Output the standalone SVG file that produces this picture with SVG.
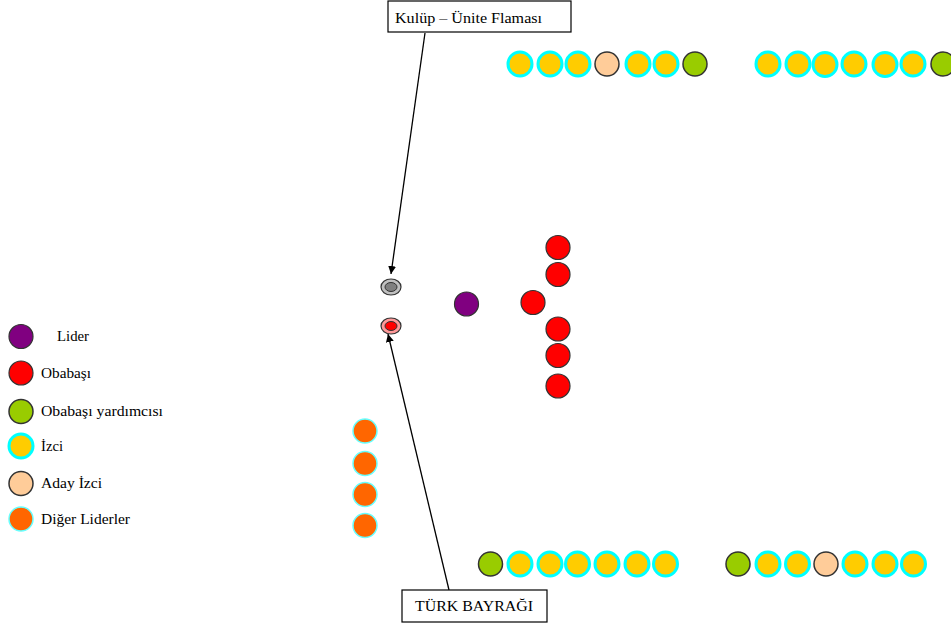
<svg xmlns="http://www.w3.org/2000/svg" width="951" height="625" viewBox="0 0 951 625">
<style>
.txt{font-family:"Liberation Serif","Times New Roman",serif;font-size:14px;fill:#000}
.izci{fill:#FFCC00;stroke:#00FFFF;stroke-width:3}
.aday{fill:#FFCC99;stroke:#333;stroke-width:1.5}
.yard{fill:#99CC00;stroke:#333;stroke-width:1.5}
.oba{fill:#FF0000;stroke:#333;stroke-width:1.2}
.lider{fill:#800080;stroke:#333;stroke-width:1.2}
.diger{fill:#FF6600;stroke:#66FFFF;stroke-width:1.5}
.box{fill:#fff;stroke:#000;stroke-width:1.2}
.conn{stroke:#000;stroke-width:1.3;fill:none}
</style>
<defs>
<marker id="ah" viewBox="0 0 10 10" refX="10" refY="5" markerWidth="8" markerHeight="8" markerUnits="userSpaceOnUse" orient="auto">
<path d="M0,0 L10,5 L0,10 z" fill="#000"/>
</marker>
</defs>
<rect width="951" height="625" fill="#fff"/>

<g id="connectors">
<line class="conn" x1="425" y1="33" x2="391" y2="274" marker-end="url(#ah)"/>
<line class="conn" x1="449" y1="590" x2="388" y2="334" marker-end="url(#ah)"/>
</g>

<g id="flama-box">
<rect class="box" x="388" y="1" width="183" height="31"/>
<text class="txt" x="395" y="23" textLength="147" lengthAdjust="spacingAndGlyphs">Kulüp – Ünite Flaması</text>
</g>
<g id="bayrak-box">
<rect class="box" x="402" y="590" width="145" height="32"/>
<text class="txt" x="415" y="611" textLength="118" lengthAdjust="spacingAndGlyphs">TÜRK BAYRAĞI</text>
</g>

<g id="flama">
<ellipse cx="391" cy="287" rx="10" ry="8" fill="#C0C0C0" stroke="#333" stroke-width="1.2"/>
<ellipse cx="391" cy="287" rx="6" ry="4.5" fill="#808080" stroke="#333" stroke-width="1"/>
</g>
<g id="bayrak">
<ellipse cx="391" cy="326" rx="10" ry="8" fill="#FF9999" stroke="#333" stroke-width="1.2"/>
<ellipse cx="391" cy="326" rx="6" ry="4.5" fill="#FF0000" stroke="#333" stroke-width="1"/>
</g>

<g id="lider">
<circle class="lider" cx="466.5" cy="304" r="12"/>
</g>
<g id="obabasilar">
<circle class="oba" cx="533" cy="302.5" r="12"/>
<circle class="oba" cx="558" cy="247.5" r="12"/>
<circle class="oba" cx="558" cy="274.5" r="12"/>
<circle class="oba" cx="558" cy="329" r="12"/>
<circle class="oba" cx="558" cy="355.5" r="12"/>
<circle class="oba" cx="558" cy="386" r="12"/>
</g>

<g id="diger-liderler">
<circle class="diger" cx="365" cy="431" r="12"/>
<circle class="diger" cx="365" cy="463.5" r="12"/>
<circle class="diger" cx="365" cy="494.5" r="12"/>
<circle class="diger" cx="365" cy="525.5" r="12"/>
</g>

<g id="top-row-1">
<circle class="izci" cx="520" cy="64" r="12"/>
<circle class="izci" cx="550" cy="64" r="12"/>
<circle class="izci" cx="578" cy="64" r="12"/>
<circle class="aday" cx="607" cy="64" r="12"/>
<circle class="izci" cx="638" cy="64" r="12"/>
<circle class="izci" cx="666" cy="64" r="12"/>
<circle class="yard" cx="695" cy="64" r="12"/>
</g>
<g id="top-row-2">
<circle class="izci" cx="768" cy="64" r="12"/>
<circle class="izci" cx="798" cy="64" r="12"/>
<circle class="izci" cx="825" cy="64.5" r="12"/>
<circle class="izci" cx="854" cy="64" r="12"/>
<circle class="izci" cx="885" cy="64.5" r="12"/>
<circle class="izci" cx="913" cy="64" r="12"/>
<circle class="yard" cx="943" cy="64" r="12"/>
</g>

<g id="bottom-row-1">
<circle class="yard" cx="490.5" cy="564" r="12"/>
<circle class="izci" cx="520" cy="564" r="12"/>
<circle class="izci" cx="550" cy="564" r="12"/>
<circle class="izci" cx="577.5" cy="564" r="12"/>
<circle class="izci" cx="607" cy="564" r="12"/>
<circle class="izci" cx="637" cy="564" r="12"/>
<circle class="izci" cx="665.5" cy="564" r="12"/>
</g>
<g id="bottom-row-2">
<circle class="yard" cx="738" cy="564" r="12"/>
<circle class="izci" cx="768" cy="564" r="12"/>
<circle class="izci" cx="797.5" cy="564" r="12"/>
<circle class="aday" cx="826" cy="564" r="12"/>
<circle class="izci" cx="855" cy="564" r="12"/>
<circle class="izci" cx="885" cy="564" r="12"/>
<circle class="izci" cx="913.5" cy="564" r="12"/>
</g>

<g id="legend">
<g id="legend-lider">
<circle class="lider" cx="21" cy="336.5" r="12"/>
<text class="txt" x="57" y="341" textLength="32" lengthAdjust="spacingAndGlyphs">Lider</text>
</g>
<g id="legend-obabasi">
<circle class="oba" cx="21" cy="373" r="12"/>
<text class="txt" x="41" y="377.5" textLength="50" lengthAdjust="spacingAndGlyphs">Obabaşı</text>
</g>
<g id="legend-yardimcisi">
<circle class="yard" cx="21" cy="411.5" r="12"/>
<text class="txt" x="41" y="416" textLength="122" lengthAdjust="spacingAndGlyphs">Obabaşı yardımcısı</text>
</g>
<g id="legend-izci">
<circle class="izci" cx="21" cy="446" r="12"/>
<text class="txt" x="41" y="450.5" textLength="22" lengthAdjust="spacingAndGlyphs">İzci</text>
</g>
<g id="legend-aday">
<circle class="aday" cx="21" cy="483.5" r="12"/>
<text class="txt" x="41" y="488" textLength="61" lengthAdjust="spacingAndGlyphs">Aday İzci</text>
</g>
<g id="legend-diger">
<circle class="diger" cx="21" cy="519" r="12"/>
<text class="txt" x="41" y="523.5" textLength="89" lengthAdjust="spacingAndGlyphs">Diğer Liderler</text>
</g>
</g>
</svg>
